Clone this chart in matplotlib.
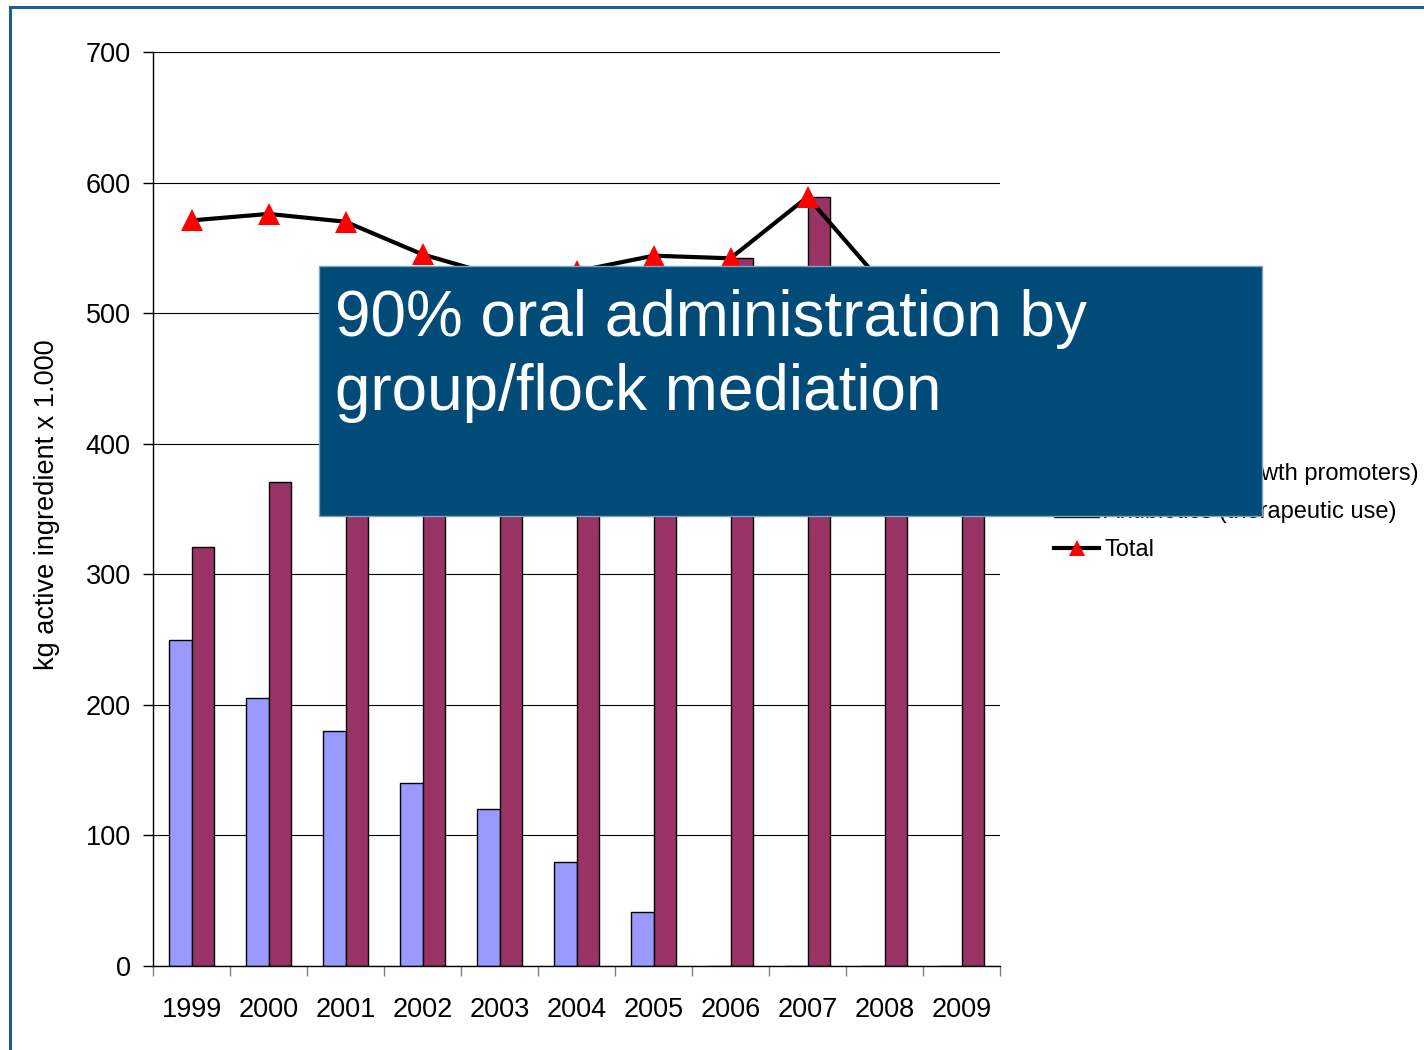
import numpy as np
import matplotlib.pyplot as plt
from matplotlib.patches import Rectangle
from matplotlib.lines import Line2D

plt.rcParams['font.family'] = ['Liberation Sans', 'DejaVu Sans']

years = ['1999', '2000', '2001', '2002', '2003', '2004', '2005', '2006', '2007', '2008', '2009']
growth = [250, 205, 180, 140, 120, 80, 41, 0, 0, 0, 0]
therapeutic = [321, 371, 390, 405, 408, 452, 503, 542, 589, 521, 496]
total = [571, 576, 570, 545, 528, 532, 544, 542, 589, 521, 496]

fig = plt.figure(figsize=(14.24, 10.5), dpi=100)
ax = fig.add_axes([153 / 1424, 84 / 1050, 847 / 1424, 914 / 1050])

x = np.arange(len(years))
w = 0.286
b1 = ax.bar(x - w / 2, growth, w, color='#9999FF', edgecolor='black', linewidth=1,
            label='Antibiotics (growth promoters)', zorder=2)
b2 = ax.bar(x + w / 2, therapeutic, w, color='#993366', edgecolor='black', linewidth=1,
            label='Antibiotics (therapeutic use)', zorder=2)
ln, = ax.plot(x, total, color='black', linewidth=3, marker='^', markersize=16,
              markerfacecolor='red', markeredgecolor='red', markeredgewidth=0,
              label='Total', zorder=3)

ax.set_xlim(-0.5, len(years) - 0.5)
ax.set_ylim(0, 700)
ax.set_yticks(range(0, 701, 100))
ax.yaxis.grid(True, color='black', linewidth=0.8)
ax.set_axisbelow(True)

ax.set_xticks(x)
ax.set_xticklabels(years)
ax.set_xticks(np.arange(-0.5, len(years), 1), minor=True)
ax.tick_params(axis='x', which='major', length=0, pad=22, labelsize=19.5)
ax.tick_params(axis='x', which='minor', length=7, color='#808080', width=1)
ax.tick_params(axis='y', length=7, pad=9, labelsize=19.5, width=1)

for s in ['top', 'right']:
    ax.spines[s].set_visible(False)
ax.spines['left'].set_linewidth(1)
ax.spines['bottom'].set_linewidth(1)

ax.set_ylabel('kg active ingredient x 1.000', fontsize=19.5)
ax.yaxis.set_label_coords((60 - 153) / 847, (966 - 505) / 914)

ax.legend([b1, b2, ln], [b1.get_label(), b2.get_label(), ln.get_label()],
          loc='center left', bbox_to_anchor=(1045 / 1424, 1 - 512 / 1050),
          bbox_transform=fig.transFigure, frameon=False, fontsize=17,
          handlelength=1.9, handleheight=0.55, handletextpad=0.2, labelspacing=0.68,
          borderaxespad=0, markerscale=0.7)

# overlay box
box = Rectangle((319 / 1424, 1 - 516 / 1050), (1262 - 319) / 1424, 250 / 1050,
                transform=fig.transFigure, facecolor='#004B78', edgecolor='#7FA3BF',
                linewidth=1, zorder=5)
fig.patches.append(box)
fig.text(335 / 1424, 1 - 289 / 1050, '90% oral administration by\ngroup/flock mediation',
         color='white', fontsize=46, va='top', ha='left', linespacing=1.3, zorder=6)

# slide frame
fig.lines.append(Line2D([10 / 1424, 10 / 1424], [0, 1 - 7 / 1050], transform=fig.transFigure,
                        color='#1F5E8C', linewidth=2.2))
fig.lines.append(Line2D([10 / 1424, 1], [1 - 7 / 1050, 1 - 7 / 1050], transform=fig.transFigure,
                        color='#1F5E8C', linewidth=2.2))

fig.savefig('out.png', dpi=100)
